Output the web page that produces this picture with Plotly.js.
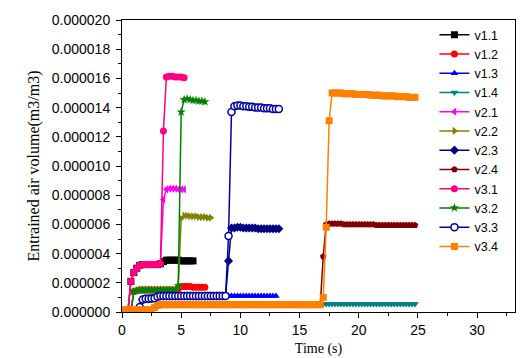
<!DOCTYPE html>
<html>
<head>
<meta charset="utf-8">
<script src="https://cdn.plot.ly/plotly-3.0.1.min.js"></script>
<style>html,body{margin:0;padding:0;background:#fff;}#chart{width:525px;height:358px;}</style>
</head>
<body>
<div id="chart"></div>
<script>
// Time samples (s)
const T = [0,0.25,0.5,0.75,1,1.25,1.5,1.75,2,2.25,2.5,2.75,3,3.25,3.5,3.75,4,4.25,4.5,4.75,5,5.25,5.5,5.75,6,6.25,6.5,6.75,7,7.25,7.5,7.75,8,8.25,8.5,8.75,9,9.25,9.5,9.75,10,10.25,10.5,10.75,11,11.25,11.5,11.75,12,12.25,12.5,12.75,13,13.25,13.5,13.75,14,14.25,14.5,14.75,15,15.25,15.5,15.75,16,16.25,16.5,16.75,17,17.25,17.5,17.75,18,18.25,18.5,18.75,19,19.25,19.5,19.75,20,20.25,20.5,20.75,21,21.25,21.5,21.75,22,22.25,22.5,22.75,23,23.25,23.5,23.75,24,24.25,24.5,24.75,25];

// Values in units of 1e-6 m3/m3
const UNIT = 1e-6;

// shared early paths
const pre1 = [0,0,0.05,2.1,2.7,3.0,3.2,3.25,3.25,3.25,3.25,3.25,3.25,3.3];
const pre2 = [0,0,0,0.05,1.4,1.45,1.5,1.5,1.5,1.5,1.5,1.5,1.5,1.5,1.5,1.5,1.5,1.5,1.5];
const pre3 = [0,0,0,0,0,0.05,0.35,0.85,0.9,0.9,0.92,0.95,1.05,1.1,1.1,1.1,1.1,1.1,1.1,1.1,1.1,1.1,1.1,1.1,1.1,1.1,1.1,1.1,1.1,1.1,1.1,1.1,1.1,1.1,1.1,1.1];
const pre4 = [0,0.15,0.15,0.15,0.15,0.15,0.15,0.15,0.15,0.15,0.15,0.3,0.45,0.5,0.5,0.5,0.5,0.5,0.5,0.5,0.5,0.5,0.5,0.5,0.5,0.5,0.5,0.5,0.5,0.5,0.5,0.5,0.5,0.5,0.5,0.5,0.5,0.5,0.5,0.5,0.5,0.5,0.5,0.5,0.5,0.5,0.5,0.5,0.5,0.5,0.5,0.5,0.5,0.5,0.5,0.5,0.5,0.5,0.5,0.5,0.5,0.5,0.5,0.5,0.5,0.5,0.5,0.5];

// later parts of each series
const v11_tail = [3.45,3.55,3.55,3.55,3.55,3.55,3.5,3.5,3.5,3.5,3.5];
const v12_tail = [1.6,1.75,1.75,1.75,1.75,1.7,1.7,1.7,1.7,1.7];
const v13_tail = [1.1,1.1,1.1,1.1,1.1,1.1,1.1,1.1,1.1,1.1,1.1,1.1,1.1,1.1,1.1,1.1,1.1];
const v14_tail = [0.55,0.55,0.55,0.55,0.55,0.55,0.55,0.55,0.55,0.55,0.55,0.55,0.55,0.55,0.55,0.55,0.55,0.55,0.55,0.55,0.55,0.55,0.55,0.55,0.55,0.55,0.55,0.55,0.55,0.55,0.55,0.55];
const v21_tail = [7.7,8.4,8.45,8.45,8.45,8.4,8.4,8.4];
const v22_tail = [1.7,6.4,6.6,6.6,6.55,6.55,6.55,6.5,6.5,6.5,6.45,6.45];
const v23_tail = [3.5,5.75,5.75,5.8,5.8,5.75,5.75,5.75,5.75,5.75,5.7,5.7,5.7,5.7,5.7,5.7,5.7,5.7];
const v24_tail = [3.8,6.0,6.05,6.05,6.05,6.05,6.05,6.0,6.0,6.0,6.0,6.0,6.0,6.0,6.0,6.0,6.0,6.0,5.95,5.95,5.95,5.95,5.95,5.95,5.95,5.95,5.95,5.95,5.95,5.95,5.95,5.95];
const v31_tail = [12.4,16.1,16.15,16.15,16.1,16.1,16.1,16.05];
const v32_tail = [1.8,13.7,14.55,14.6,14.55,14.5,14.5,14.45,14.45,14.4];
const v33_tail = [5.2,13.7,14.1,14.15,14.15,14.1,14.1,14.05,14.05,14.0,14.0,14.0,13.95,13.95,13.95,13.9,13.9,13.9];
const v34_tail = [1.0,5.8,13.1,15.0,15.0,15.0,15.0,14.95,14.95,14.95,14.95,14.9,14.9,14.9,14.9,14.9,14.85,14.85,14.85,14.85,14.8,14.8,14.8,14.8,14.8,14.75,14.75,14.75,14.75,14.7,14.7,14.7];

const names = ['v1.1','v1.2','v1.3','v1.4','v2.1','v2.2','v2.3','v2.4','v3.1','v3.2','v3.3','v3.4'];
const values = [
  pre1.concat(v11_tail), pre2.concat(v12_tail), pre3.concat(v13_tail), pre4.concat(v14_tail),
  pre1.concat(v21_tail), pre2.concat(v22_tail), pre3.concat(v23_tail), pre4.concat(v24_tail),
  pre1.concat(v31_tail), pre2.concat(v32_tail), pre3.concat(v33_tail), pre4.concat(v34_tail)
];
const colors = ['#000000','#ff0000','#0000ff','#008080','#ff00ff','#808000','#000080','#800000','#ff0080','#008000','#0000a0','#ff8000'];
const symbols = ['square','circle','triangle-up','triangle-down','triangle-left','triangle-right','diamond','pentagon','circle','star','circle','square'];

const traces = names.map((n, k) => {
  const isOpen = (n === 'v3.3');
  return {
    type: 'scatter', mode: 'lines+markers', name: n,
    x: T.slice(0, values[k].length),
    y: values[k].map(v => v * UNIT),
    line: {color: colors[k], width: 1.5},
    marker: {symbol: symbols[k], size: 7, color: isOpen ? '#ffffff' : colors[k],
             line: {color: colors[k], width: isOpen ? 1.5 : 0}}
  };
});

const axisFont = {family: 'Liberation Sans, Arial, sans-serif', size: 14, color: '#000'};
const layout = {
  width: 525, height: 358,
  margin: {l: 122, r: 10, t: 20, b: 46, pad: 0},
  paper_bgcolor: '#fff', plot_bgcolor: '#fff',
  showlegend: true,
  legend: {x: 0.795, y: 1.0, xanchor: 'left', yanchor: 'top', bgcolor: 'rgba(0,0,0,0)',
           font: {family: 'Liberation Sans, Arial, sans-serif', size: 12.5, color: '#000'}},
  xaxis: {
    range: [0, 33.2], tick0: 0, dtick: 5, ticks: 'outside', ticklen: 5, tickwidth: 1, tickcolor: '#000',
    showline: true, linecolor: '#000', linewidth: 1, mirror: true, showgrid: false, zeroline: false,
    tickfont: axisFont,
    minor: {ticks: 'outside', ticklen: 3, dtick: 2.5, tick0: 0, tickcolor: '#000', showgrid: false},
    title: {text: 'Time (s)', font: {family: 'Liberation Serif, Times New Roman, serif', size: 14, color: '#000'}, standoff: 6}
  },
  yaxis: {
    range: [0, 2e-5], tick0: 0, dtick: 2e-6, tickformat: '.6f', ticks: 'outside', ticklen: 5, tickwidth: 1, tickcolor: '#000',
    showline: true, linecolor: '#000', linewidth: 1, mirror: true, showgrid: false, zeroline: false,
    tickfont: axisFont, ticklabelstandoff: 3,
    minor: {ticks: 'outside', ticklen: 3, dtick: 1e-6, tick0: 0, tickcolor: '#000', showgrid: false},
    title: {text: 'Entrained air volume(m3/m3)', font: {family: 'Liberation Serif, Times New Roman, serif', size: 16, color: '#000'}, standoff: 8}
  }
};

Plotly.newPlot('chart', traces, layout, {displayModeBar: false, staticPlot: true});
</script>
</body>
</html>
